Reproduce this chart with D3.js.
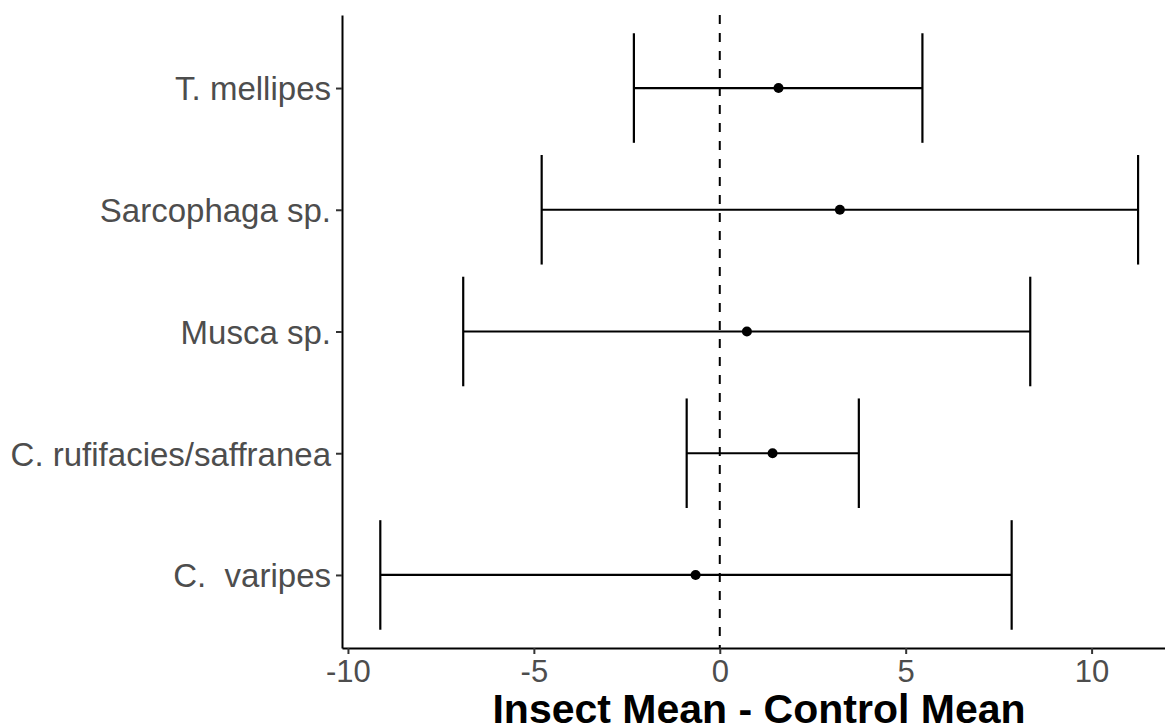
<!DOCTYPE html>
<html>
<head>
<meta charset="utf-8">
<script src="https://cdn.jsdelivr.net/npm/d3@7"></script>
<style>
  body { margin: 0; background: #fff; }
  svg { display: block; }
  .tick text { white-space: pre; }
</style>
</head>
<body>
<div id="chart"></div>
<script>
// data
const species = ["T. mellipes", "Sarcophaga sp.", "Musca sp.", "C. rufifacies/saffranea", "C.  varipes"];
const means = [1.58, 3.23, 0.73, 1.42, -0.65];
const lower = [-2.31, -4.79, -6.90, -0.89, -9.13];
const upper = [5.45, 11.25, 8.35, 3.74, 7.85];
const xTicks = [-10, -5, 0, 5, 10];
const xTitle = "Insect Mean - Control Mean";

const W = 1165, H = 726;
const margin = {top: 15, right: -11, bottom: 78, left: 342};
const width = W - margin.left - margin.right;
const height = H - margin.top - margin.bottom;

const svg = d3.select("#chart").append("svg")
    .attr("width", W)
    .attr("height", H);

const g = svg.append("g")
    .attr("transform", "translate(" + margin.left + "," + margin.top + ")");

// x scale, expanded like ggplot
const x = d3.scaleLinear()
    .domain([-10.16, 12.27])
    .range([0, width]);

// discrete y, with 0.6 band expansion
const y = d3.scalePoint()
    .domain(species)
    .range([0, height])
    .padding(0.6);
const step = y.step();
const capH = step * 0.9;

const dark = "#000";

// zero reference line
g.append("line")
    .attr("x1", x(0)).attr("x2", x(0))
    .attr("y1", 0).attr("y2", height)
    .attr("stroke", dark)
    .attr("stroke-width", 2)
    .attr("stroke-dasharray", "9,9");

const rows = species.map((s, i) => ({name: s, m: means[i], lo: lower[i], hi: upper[i]}));

const bars = g.selectAll(".bar").data(rows).enter().append("g");

bars.append("line")
    .attr("x1", d => x(d.lo)).attr("x2", d => x(d.hi))
    .attr("y1", d => y(d.name)).attr("y2", d => y(d.name))
    .attr("stroke", dark).attr("stroke-width", 2.2);

bars.append("line")
    .attr("x1", d => x(d.lo)).attr("x2", d => x(d.lo))
    .attr("y1", d => y(d.name) - capH / 2).attr("y2", d => y(d.name) + capH / 2)
    .attr("stroke", dark).attr("stroke-width", 2.2);

bars.append("line")
    .attr("x1", d => x(d.hi)).attr("x2", d => x(d.hi))
    .attr("y1", d => y(d.name) - capH / 2).attr("y2", d => y(d.name) + capH / 2)
    .attr("stroke", dark).attr("stroke-width", 2.2);

bars.append("circle")
    .attr("cx", d => x(d.m))
    .attr("cy", d => y(d.name))
    .attr("r", 5)
    .attr("fill", dark);

// axes
const xAxis = g.append("g")
    .attr("transform", "translate(0," + height + ")")
    .call(d3.axisBottom(x).tickValues(xTicks).tickSize(6).tickPadding(6).tickSizeOuter(0)
        .tickFormat(d => d < 0 ? "-" + Math.abs(d) : d));

const yAxis = g.append("g")
    .call(d3.axisLeft(y).tickSize(6).tickPadding(5).tickSizeOuter(0));

[xAxis, yAxis].forEach(a => {
    a.select(".domain").attr("stroke", dark).attr("stroke-width", 2);
    a.selectAll(".tick line").attr("stroke", "#333").attr("stroke-width", 2);
    a.selectAll(".tick text")
        .attr("fill", "#4d4d4d")
        .style("font-family", "'Liberation Sans', Arial, sans-serif");
});
xAxis.selectAll(".tick text").style("font-size", "31px");
yAxis.selectAll(".tick text").style("font-size", "33px").attr("dy", "0.36em");

// x title
svg.append("text")
    .attr("x", margin.left + width / 2)
    .attr("y", 723)
    .attr("text-anchor", "middle")
    .style("font-family", "'Liberation Sans', Arial, sans-serif")
    .style("font-weight", "bold")
    .style("font-size", "41px")
    .attr("fill", "#000")
    .text(xTitle);
</script>
</body>
</html>
